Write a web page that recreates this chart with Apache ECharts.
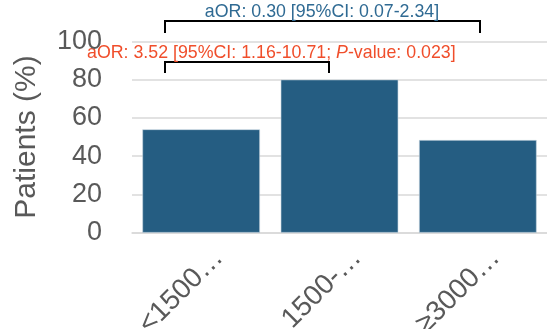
<!DOCTYPE html>
<html>
<head>
<meta charset="utf-8">
<script src="https://cdn.jsdelivr.net/npm/echarts@6/dist/echarts.min.js"></script>
<style>html,body{margin:0;padding:0;background:#fff}#c{width:547px;height:329px}</style>
</head>
<body>
<div id="c"></div>
<script>
var categories = ['<1500\u2026', '1500-\u2026', '\u22653000\u2026'];
var patientsPct = [54, 80, 48.4];
var yTicks = { min: 0, max: 100, interval: 20 };
var blueNote = 'aOR: 0.30 [95%CI: 0.07-2.34]';
var redNotePre = 'aOR: 3.52 [95%CI: 1.16-10.71; ';
var redNoteItalic = 'P';
var redNotePost = '-value: 0.023]';

var chart = echarts.init(document.getElementById('c'), null, { renderer: 'canvas' });
var FONT = 'Liberation Sans, Arial, sans-serif';
chart.setOption({
  animation: false,
  grid: { left: 132, right: 0, top: 41.3, bottom: 96.3, containLabel: false, outerBoundsMode: 'none' },
  xAxis: {
    type: 'category',
    data: categories,
    axisLine: { show: true, lineStyle: { color: '#D9D9D9', width: 1.5 } },
    axisTick: { show: false },
    axisLabel: {
      rotate: 45, interval: 0, margin: 3, color: '#595959',
      fontSize: 28, fontFamily: FONT, verticalAlign: 'top', padding: [11, 0, 0, 0]
    }
  },
  yAxis: {
    type: 'value', min: yTicks.min, max: yTicks.max, interval: yTicks.interval,
    name: 'Patients (%)', nameLocation: 'middle', nameGap: 90,
    nameTextStyle: { fontSize: 30, color: '#595959', fontFamily: FONT },
    axisLine: { show: false }, axisTick: { show: false },
    axisLabel: { color: '#595959', fontSize: 27, fontFamily: FONT, margin: 30 },
    splitLine: { lineStyle: { color: '#D9D9D9', width: 1.5 } }
  },
  series: [{
    type: 'bar', data: patientsPct, barCategoryGap: '15%',
    itemStyle: { color: '#255D82', borderColor: '#c9d6e0', borderWidth: 0.6 }
  }],
  graphic: [
    { type: 'polyline', shape: { points: [[165, 33], [165, 21], [480, 21], [480, 33]] },
      style: { stroke: '#000', lineWidth: 2, fill: null } },
    { type: 'text', x: 322, y: 12,
      style: { text: blueNote, fill: '#2F6A93', font: '17.8px ' + FONT, align: 'center', verticalAlign: 'middle' } },
    { type: 'polyline', shape: { points: [[165, 73], [165, 62], [329, 62], [329, 73]] },
      style: { stroke: '#000', lineWidth: 2, fill: null } },
    { type: 'text', x: 87, y: 53.5,
      style: {
        text: '{n|' + redNotePre + '}{i|' + redNoteItalic + '}{n|' + redNotePost + '}',
        align: 'left', verticalAlign: 'middle',
        rich: {
          n: { fill: '#F04E2B', fontSize: 17.8, fontFamily: FONT },
          i: { fill: '#F04E2B', fontSize: 17.8, fontFamily: FONT, fontStyle: 'italic' }
        }
      } }
  ]
});
</script>
</body>
</html>
